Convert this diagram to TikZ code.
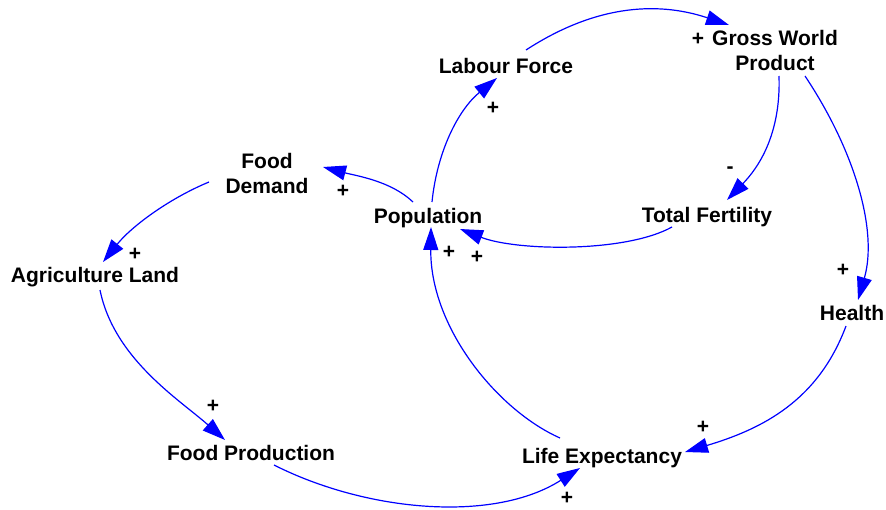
\documentclass[tikz,border=0pt]{standalone}
\usepackage{fontspec}
\setmainfont{Liberation Sans}
\usetikzlibrary{arrows.meta}
\definecolor{linkblue}{RGB}{0,0,255}
\begin{document}
\begin{tikzpicture}[x=1pt,y=-1pt,
  var/.style={font=\fontsize{21}{25}\bfseries\selectfont, inner sep=0pt, anchor=base, align=center},
  pol/.style={font=\fontsize{21}{25}\bfseries\selectfont, inner sep=0pt},
  link/.style={draw=linkblue, line width=1.2pt,
    -{Triangle[length=23pt,width=15pt,fill=linkblue]}}]
\useasboundingbox (0,0) rectangle (886,509);

% variables (base anchor = baseline of the last line)
\node[var] (lf)  at (506,73)  {Labour Force};
\node[var] (gwp) at (775,70)  {Gross World\\Product};
\node[var] (fd)  at (267,193) {Food\\Demand};
\node[var] (pop) at (428,223) {Population};
\node[var] (tf)  at (707,222) {Total Fertility};
\node[var] (al)  at (95,282)  {Agriculture Land};
\node[var] (hl)  at (852,320) {Health};
\node[var] (fp)  at (251,460) {Food Production};
\node[var] (le)  at (602,463) {Life Expectancy};

% causal links
\draw[link] ([shift={(20,-23)}]lf.base) .. controls (592,7) and (654,0) .. ([shift={(-46,-45)}]gwp.base);
\draw[link] ([shift={(4,-21)}]pop.base) .. controls (437,152) and (458,110) .. ([shift={(-9,5)}]lf.base);
\draw[link] ([shift={(4,6)}]gwp.base) .. controls (781,135) and (758,168) .. ([shift={(20,-22)}]tf.base);
\draw[link] ([shift={(30,6)}]gwp.base) .. controls (855,151) and (878,231) .. ([shift={(6,-20)}]hl.base);
\draw[link] ([shift={(-35,5)}]tf.base) .. controls (625,253) and (516,251) .. ([shift={(32,6)}]pop.base);
\draw[link] ([shift={(-15,-21)}]pop.base) .. controls (391,181) and (357,176) .. ([shift={(56,-26)}]fd.base);
\draw[link] ([shift={(-58,-11)}]fd.base) .. controls (168,199) and (131,227) .. ([shift={(8,-20)}]al.base);
\draw[link] ([shift={(5,8)}]al.base) .. controls (114,359) and (180,400) .. ([shift={(-26,-20)}]fp.base);
\draw[link] ([shift={(23,5)}]fp.base) .. controls (367,512) and (494,523) .. ([shift={(-22,5)}]le.base);
\draw[link] ([shift={(-6,6)}]hl.base) .. controls (818,401) and (762,429) .. ([shift={(83,-11)}]le.base);
\draw[link] ([shift={(-42,-25)}]le.base) .. controls (497,410) and (430,327) .. ([shift={(3,4)}]pop.base);

% polarities
\node[pol] (p1)  at (698,39)  {+};
\node[pol] (p2)  at (493,108) {+};
\node[pol] (p3)  at (730,170) {-};
\node[pol] (p4)  at (843,270) {+};
\node[pol] (p5)  at (343,191) {+};
\node[pol] (p6)  at (449,252) {+};
\node[pol] (p7)  at (477,257) {+};
\node[pol] (p8)  at (135,254) {+};
\node[pol] (p9)  at (213,406) {+};
\node[pol] (p10) at (567,498) {+};
\node[pol] (p11) at (703,427) {+};
\end{tikzpicture}
\end{document}
